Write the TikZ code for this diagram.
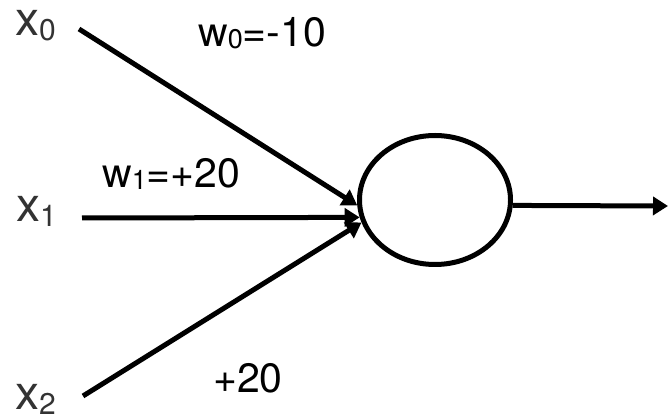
\documentclass[tikz,border=0pt]{standalone}
\usepackage{fontspec}
\setmainfont{TeX Gyre Heros}
\usetikzlibrary{arrows.meta,shapes.geometric}
\definecolor{xgray}{HTML}{333333}
\newcommand{\xlab}[1]{{\fontsize{48}{48}\selectfont x}\raisebox{-5pt}{\fontsize{30}{30}\selectfont #1}}
\newcommand{\wlab}[1]{w\raisebox{-2pt}{\fontsize{27}{27}\selectfont #1}}
\begin{document}
\begin{tikzpicture}[x=1pt,y=1pt,
  inlab/.style={anchor=base west,inner sep=0pt,text=xgray},
  wtext/.style={anchor=base west,inner sep=0pt,font=\fontsize{41}{41}\selectfont},
  conn/.style={line width=5pt,-{Triangle[length=15pt,width=18pt]}},
  neuron/.style={draw,ellipse,line width=5pt,minimum width=151pt,minimum height=129pt,inner sep=0pt}]
\useasboundingbox (0,0) rectangle (668,417);
\node[neuron] (n) at (435,217) {};
\node[inlab] (x0) at (15,381) {\xlab{0}};
\node[inlab] (x1) at (16,195) {\xlab{1}};
\node[inlab] (x2) at (15,8) {\xlab{2}};
\node[wtext] (w0) at (198,370) {\wlab{0}=-10};
\node[wtext] (w1) at (102,229) {\wlab{1}=+20};
\node[wtext] (w2) at (213,25) {+20};
\coordinate (s0) at (79,388);
\coordinate (s1) at (82,199);
\coordinate (s2) at (83,21);
\coordinate (out) at (668,211);
\draw[conn] (s0) -- (n.184);
\draw[conn] (s1) -- (n.193);
\draw[conn] (s2) -- (n.197);
\draw[conn] (n.-4) -- (out);
\end{tikzpicture}
\end{document}
